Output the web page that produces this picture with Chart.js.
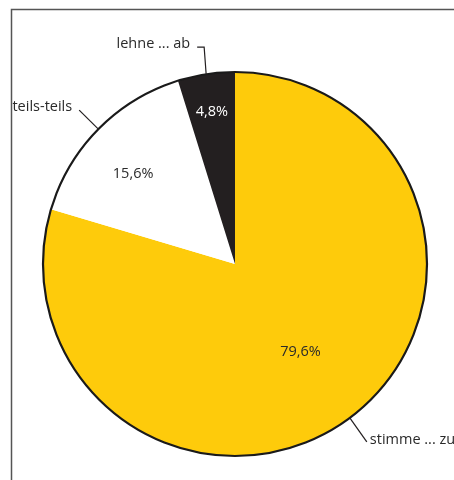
<!DOCTYPE html>
<html>
<head>
<meta charset="utf-8">
<script src="https://cdn.jsdelivr.net/npm/chart.js@4.4.1/dist/chart.umd.min.js"></script>
<style>
  body { margin: 0; background: #fff; }
  #wrap { position: relative; width: 454px; height: 480px; }
</style>
</head>
<body>
<div id="wrap"><canvas id="c" width="454" height="480"></canvas></div>
<script>
const labels = ['stimme ... zu', 'teils-teils', 'lehne ... ab']
const values = [79.6, 15.6, 4.8]
const valueLabels = ['79,6%', '15,6%', '4,8%']
const colors = ['#FECB0B', '#FFFFFF', '#231F20']
const valueColors = ['#2a2a2a', '#2a2a2a', '#FFFFFF']

const FONT = '14.5px "Open Sans", sans-serif'

const piePlugin = {
  id: 'piePlugin',
  beforeDraw(chart) {
    const ctx = chart.ctx
    ctx.save()
    ctx.strokeStyle = '#555'
    ctx.lineWidth = 1.5
    ctx.beginPath()
    ctx.moveTo(11.5, 480)
    ctx.lineTo(11.5, 9.5)
    ctx.lineTo(454, 9.5)
    ctx.stroke()
    ctx.restore()
  },
  afterDatasetsDraw(chart) {
    const ctx = chart.ctx
    const arcs = chart.getDatasetMeta(0).data
    const cx = arcs[0].x, cy = arcs[0].y, r = arcs[0].outerRadius
    ctx.save()
    // outer outline
    ctx.strokeStyle = '#1a1a1a'
    ctx.lineWidth = 2.2
    ctx.beginPath()
    ctx.arc(cx, cy, r, 0, Math.PI * 2)
    ctx.stroke()

    // value labels
    const frac = [0.57, 0.71, 0.80]
    const nudge = [0, -3, 0]
    ctx.font = FONT
    ctx.textAlign = 'center'
    ctx.textBaseline = 'middle'
    arcs.forEach((a, i) => {
      const mid = (a.startAngle + a.endAngle) / 2 + nudge[i] * Math.PI / 180
      ctx.fillStyle = valueColors[i]
      ctx.fillText(valueLabels[i], cx + Math.cos(mid) * r * frac[i], cy + Math.sin(mid) * r * frac[i])
    })

    // callouts
    ctx.strokeStyle = '#231F20'
    ctx.lineWidth = 1.2
    ctx.fillStyle = '#2a2a2a'
    arcs.forEach((a, i) => {
      const mid = (a.startAngle + a.endAngle) / 2
      const x0 = cx + Math.cos(mid) * r, y0 = cy + Math.sin(mid) * r
      ctx.beginPath()
      if (i === 2) {
        ctx.moveTo(x0, y0)
        ctx.lineTo(x0 - 2, y0 - 27)
        ctx.lineTo(x0 - 9, y0 - 27)
        ctx.stroke()
        ctx.textAlign = 'right'
        ctx.fillText(labels[i], x0 - 16, y0 - 30)
      } else if (i === 1) {
        const x1 = cx + Math.cos(mid) * (r + 27), y1 = cy + Math.sin(mid) * (r + 27)
        ctx.moveTo(x0, y0)
        ctx.lineTo(x1, y1)
        ctx.stroke()
        ctx.textAlign = 'right'
        ctx.fillText(labels[i], x1 - 7, y1 - 3)
      } else {
        const x1 = x0 + 17, y1 = y0 + 24
        ctx.moveTo(x0, y0)
        ctx.lineTo(x1, y1)
        ctx.stroke()
        ctx.textAlign = 'left'
        ctx.fillText(labels[i], x1 + 3, y1 - 2)
      }
    })
    ctx.restore()
  }
}

new Chart(
  document.getElementById('c'),
  {
    type: 'pie',
    data: {
      labels: labels,
      datasets: [
        {
          data: values,
          backgroundColor: colors,
          borderWidth: 0
        }
      ]
    },
    options: {
      responsive: false,
      animation: false,
      layout: {
        padding: { left: 43, right: 27, top: 72, bottom: 24 }
      },
      plugins: {
        legend: { display: false },
        tooltip: { enabled: false }
      }
    },
    plugins: [piePlugin]
  }
)
</script>
</body>
</html>
